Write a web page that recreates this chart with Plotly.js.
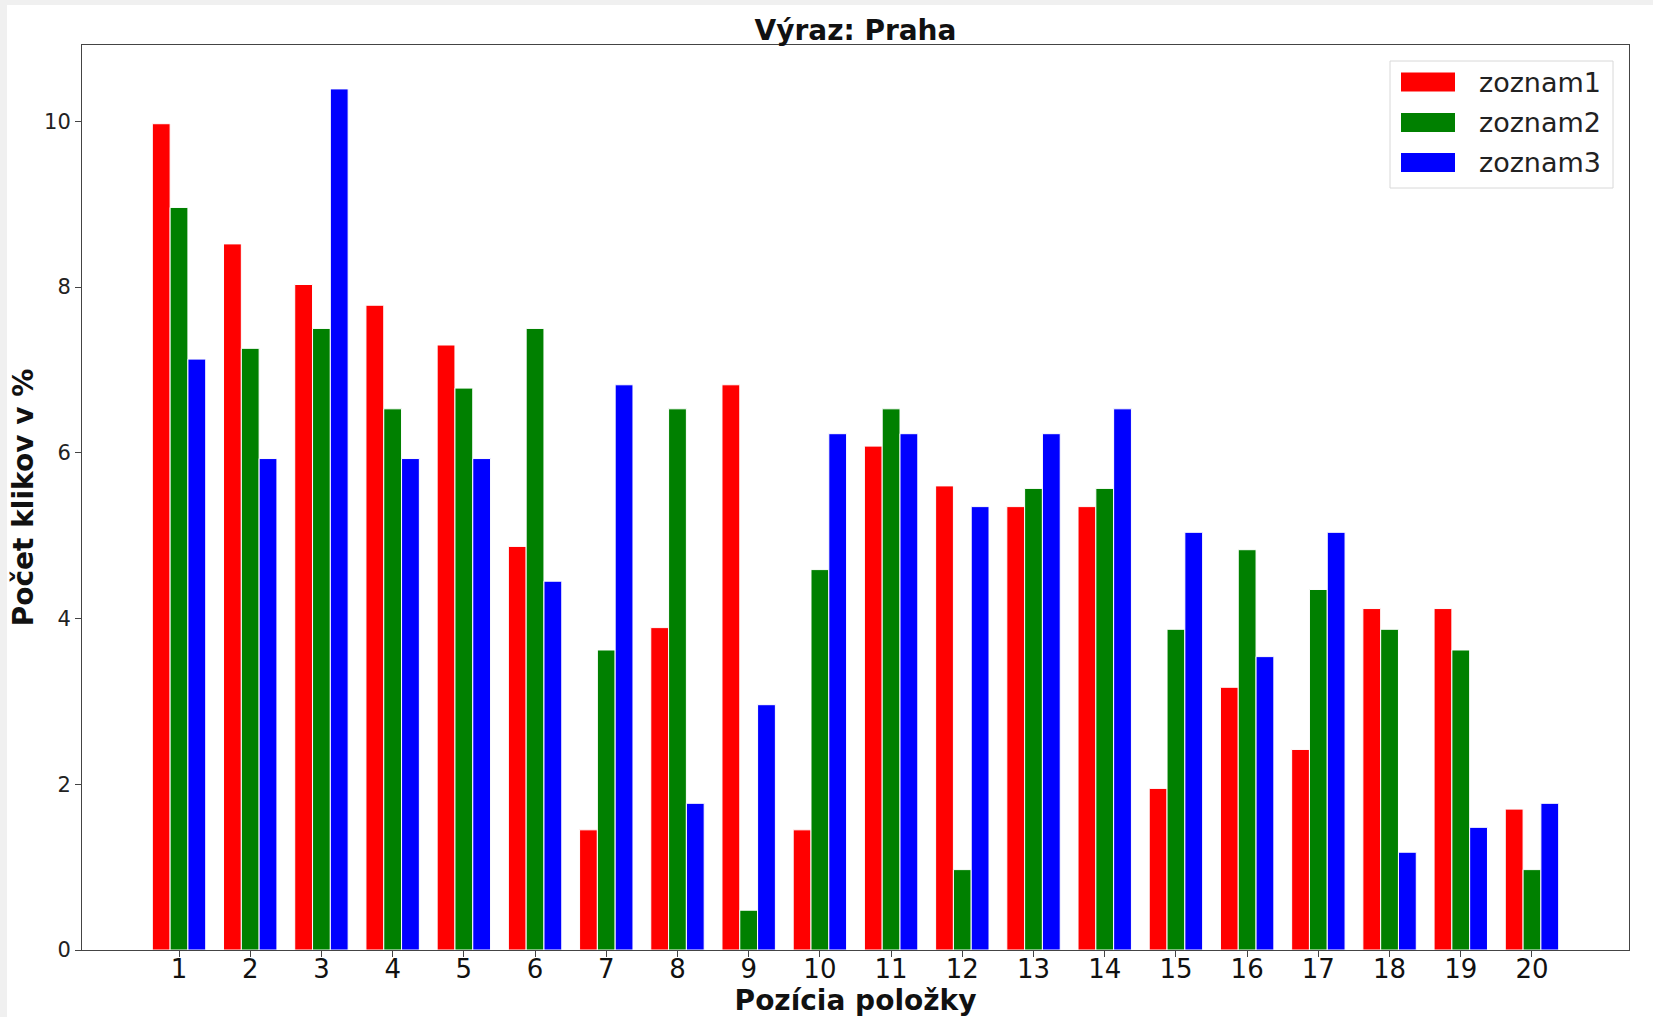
<!DOCTYPE html>
<html>
<head>
<meta charset="utf-8">
<script src="https://cdn.plot.ly/plotly-3.0.1.min.js"></script>
<style>
  html, body { margin: 0; padding: 0; background: #f0f0f0; width: 1653px; height: 1017px; overflow: hidden; }
  #chart { position: absolute; left: 7px; top: 5px; width: 1646px; height: 1012px; background: #ffffff; }
</style>
</head>
<body>
<div id="chart"></div>
<script>
// ---- data ----
const positions = [1, 2, 3, 4, 5, 6, 7, 8, 9, 10, 11, 12, 13, 14, 15, 16, 17, 18, 19, 20];
const tickLabels = ["1", "2", "3", "4", "5", "6", "7", "8", "9", "10", "11", "12", "13", "14", "15", "16", "17", "18", "19", "20"];
const seriesNames = ["zoznam1", "zoznam2", "zoznam3"];
const zoznam1 = [9.97, 8.52, 8.03, 7.78, 7.30, 4.87, 1.45, 3.89, 6.82, 1.45, 6.08, 5.60, 5.35, 5.35, 1.95, 3.17, 2.42, 4.12, 4.12, 1.70];
const zoznam2 = [8.96, 7.26, 7.50, 6.53, 6.78, 7.50, 3.62, 6.53, 0.48, 4.59, 6.53, 0.97, 5.57, 5.57, 3.87, 4.83, 4.35, 3.87, 3.62, 0.97];
const zoznam3 = [7.13, 5.93, 10.39, 5.93, 5.93, 4.45, 6.82, 1.77, 2.96, 6.23, 6.23, 5.35, 6.23, 6.53, 5.04, 3.54, 5.04, 1.18, 1.48, 1.77];
const yTicks = [0, 2, 4, 6, 8, 10];
const colors = ["#ff0000", "#008000", "#0000ff"];

const values = [zoznam1, zoznam2, zoznam3];
const traces = values.map((v, i) => ({
  type: "bar",
  name: seriesNames[i],
  x: positions,
  y: v,
  marker: { color: colors[i], line: { color: "#ffffff", width: 1 } },
  showlegend: false,
  hoverinfo: "x+y+name"
}));

// custom legend (matplotlib style patches)
const plotL = 82, plotR = 1629, plotT = 45, plotB = 950;
const px = X => (X - plotL) / (plotR - plotL);
const py = Y => (plotB - Y) / (plotB - plotT);
const shapes = [{
  type: "rect", xref: "paper", yref: "paper",
  x0: px(1390), x1: px(1613), y0: py(188), y1: py(61),
  line: { color: "#d8d8d8", width: 1 }, fillcolor: "rgba(255,255,255,0.85)"
}];
const annotations = [];
const rowCenters = [82, 122.5, 162.5];
seriesNames.forEach((n, i) => {
  const c = rowCenters[i];
  shapes.push({
    type: "rect", xref: "paper", yref: "paper",
    x0: px(1401), x1: px(1455), y0: py(c + 9.5), y1: py(c - 9.5),
    line: { width: 0 }, fillcolor: colors[i]
  });
  annotations.push({
    xref: "paper", yref: "paper", x: px(1477), y: py(c),
    xanchor: "left", yanchor: "middle", showarrow: false,
    text: n, font: { family: "DejaVu Sans", size: 27, color: "#222222" }
  });
});

const layout = {
  width: 1646, height: 1012,
  margin: { l: 75, r: 24, t: 40, b: 67, pad: 0 },
  paper_bgcolor: "#ffffff", plot_bgcolor: "#ffffff",
  font: { family: "DejaVu Sans", color: "#111111" },
  title: {
    text: "<b>Výraz: Praha</b>",
    font: { family: "DejaVu Sans", size: 28, color: "#111111" },
    x: 0.5, xref: "paper", xanchor: "center",
    y: 1 - 25 / 1012, yref: "container", yanchor: "middle"
  },
  barmode: "group", bargap: 0.25, bargroupgap: 0,
  xaxis: {
    type: "linear", range: [-0.3625, 21.3625],
    tickmode: "array", tickvals: positions, ticktext: tickLabels,
    tickfont: { family: "DejaVu Sans", size: 26, color: "#111111" },
    ticks: "outside", ticklen: 6, tickcolor: "#444444", tickwidth: 1,
    ticklabelstandoff: -10,
    showgrid: false, zeroline: false,
    showline: true, mirror: true, linecolor: "#444444", linewidth: 1,
    title: { text: "<b>Pozícia položky</b>", font: { family: "DejaVu Sans", size: 28, color: "#111111" }, standoff: 14 }
  },
  yaxis: {
    range: [0, 10.92],
    tickmode: "array", tickvals: yTicks, ticktext: yTicks.map(String),
    tickfont: { family: "DejaVu Sans", size: 21, color: "#222222" },
    ticks: "outside", ticklen: 6, tickcolor: "#444444", tickwidth: 1,
    showgrid: false, zeroline: false,
    showline: true, mirror: true, linecolor: "#444444", linewidth: 1,
    title: { text: "<b>Počet klikov v %</b>", font: { family: "DejaVu Sans", size: 28, color: "#111111" }, standoff: 3 }
  },
  shapes: shapes,
  annotations: annotations
};

Plotly.newPlot("chart", traces, layout, { displayModeBar: false, staticPlot: false });
</script>
</body>
</html>
